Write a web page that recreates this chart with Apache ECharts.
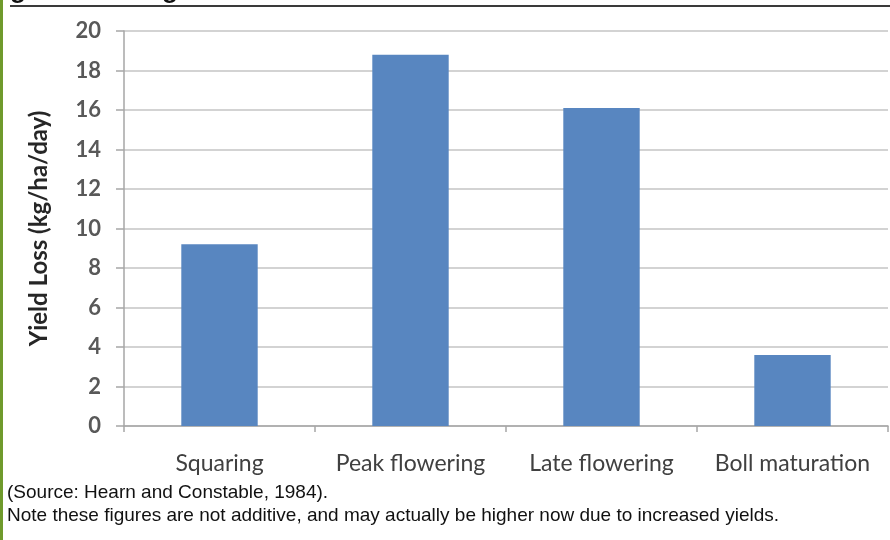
<!DOCTYPE html>
<html>
<head>
<meta charset="utf-8">
<script src="https://cdn.jsdelivr.net/npm/echarts@6/dist/echarts.min.js"></script>
<style>
  html, body { margin: 0; padding: 0; background: #ffffff; }
  #chart { width: 890px; height: 540px; }
</style>
</head>
<body>
<div id="chart"></div>
<script>
// Yield loss per day of delay, by crop stage
const stages = ['Squaring', 'Peak flowering', 'Late flowering', 'Boll maturation'];
const yieldLoss = [9.2, 18.8, 16.1, 3.6];
const yTicks = { min: 0, max: 20, interval: 2 };
const sourceNote = '(Source: Hearn and Constable, 1984).';
const caveatNote = 'Note these figures are not additive, and may actually be higher now due to increased yields.';

const chart = echarts.init(document.getElementById('chart'));

chart.setOption({
  animation: false,
  backgroundColor: '#ffffff',
  grid: { left: 124, right: 2, top: 31, bottom: 114 },
  xAxis: {
    type: 'category',
    data: stages,
    boundaryGap: true,
    axisLine: { lineStyle: { color: '#a6a6a6', width: 1.5 } },
    axisTick: { show: true, length: 6, lineStyle: { color: '#a6a6a6', width: 1.5 } },
    axisLabel: { interval: 0, hideOverlap: false, color: '#404040', fontSize: 23, fontFamily: 'Lato', margin: 26 }
  },
  yAxis: {
    type: 'value',
    min: yTicks.min,
    max: yTicks.max,
    interval: yTicks.interval,
    name: 'Yield Loss (kg/ha/day)',
    nameLocation: 'middle',
    nameGap: 73,
    nameTextStyle: { color: '#262626', fontSize: 24, fontWeight: 'bold', fontFamily: 'Lato' },
    axisLine: { show: true, lineStyle: { color: '#a6a6a6', width: 1.5 } },
    axisTick: { show: true, length: 8, lineStyle: { color: '#a6a6a6', width: 1.5 } },
    axisLabel: { color: '#595959', fontSize: 22, fontWeight: 'bold', fontFamily: 'Lato', margin: 23 },
    splitLine: { lineStyle: { color: '#c4c4c4', width: 1.5 } }
  },
  series: [{
    type: 'bar',
    data: yieldLoss,
    barWidth: '40%',
    itemStyle: { color: '#5886c0' }
  }],
  graphic: [
    // page frame: left rule and heading underline
    { type: 'rect', shape: { x: 0, y: 0, width: 3, height: 540 }, style: { fill: '#6f9a2c' } },
    { type: 'rect', shape: { x: 10, y: 5, width: 880, height: 2 }, style: { fill: '#3a3a3a' } },
    // descenders of the heading above the frame
    { type: 'text', left: 10, top: -22, style: { text: 'g', fontSize: 26, fontWeight: 'bold', fontFamily: 'Liberation Sans', fill: '#111' } },
    { type: 'text', left: 162, top: -22, style: { text: 'g', fontSize: 26, fontWeight: 'bold', fontFamily: 'Liberation Sans', fill: '#111' } },
    { type: 'text', left: 7, top: 483, style: { text: sourceNote, fontSize: 19, fontFamily: 'Liberation Sans', fill: '#111' } },
    { type: 'text', left: 7, top: 506, style: { text: caveatNote, fontSize: 19, fontFamily: 'Liberation Sans', fill: '#111' } }
  ]
});
</script>
</body>
</html>
